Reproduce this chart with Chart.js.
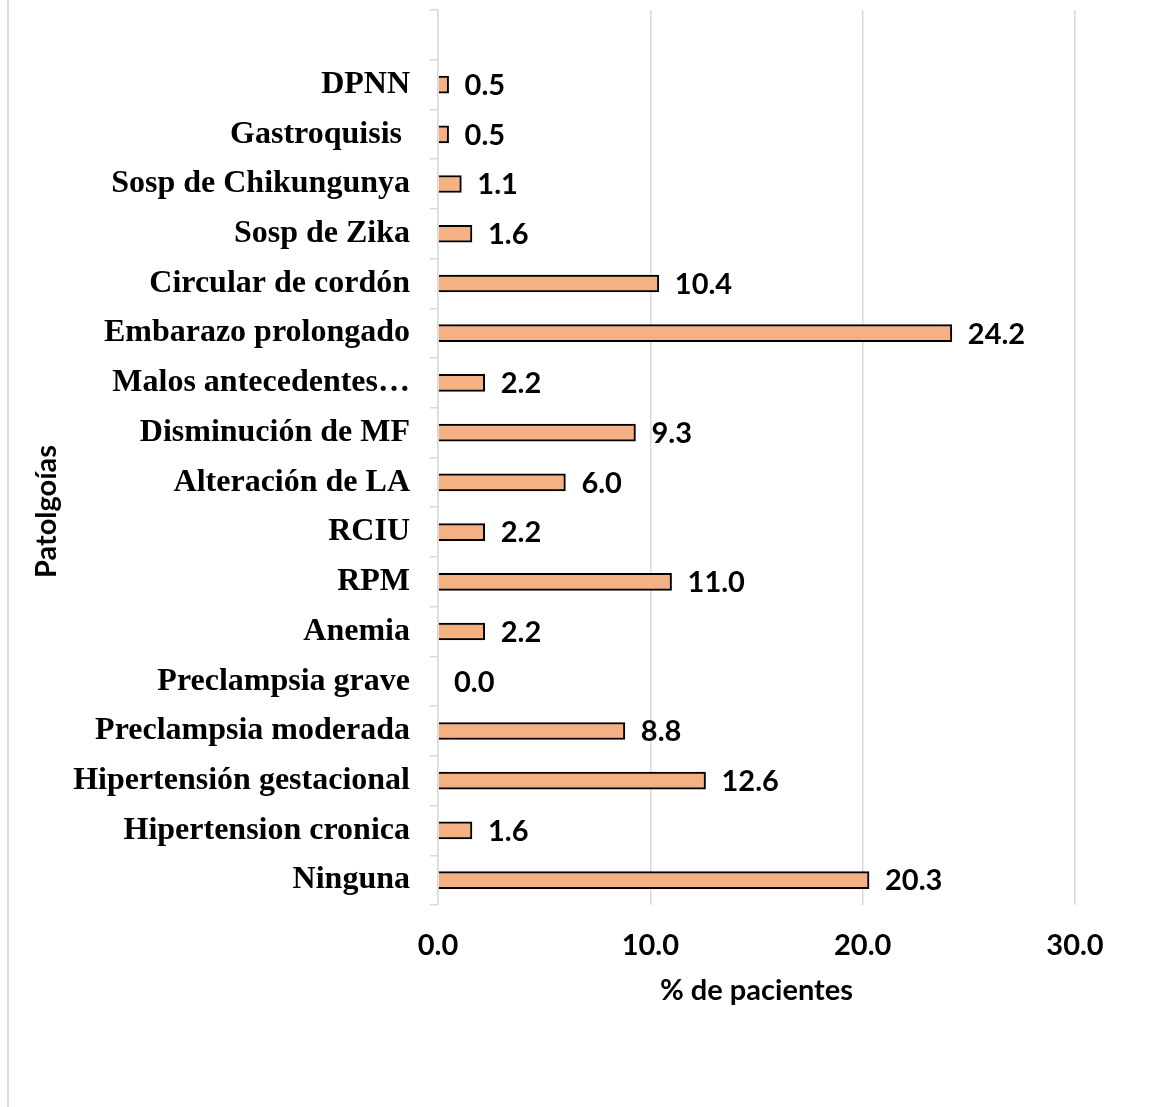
<!DOCTYPE html>
<html>
<head>
<meta charset="utf-8">
<script src="https://cdn.jsdelivr.net/npm/chart.js@4"></script>
<style>
  body { margin: 0; background: #fff; }
  #wrap { position: relative; width: 1173px; height: 1107px; }
  #frame { position: absolute; left: 7px; top: 0; width: 2px; height: 1107px; background: #d9d9d9; }
  #chart { position: absolute; left: 0; top: 0; }
</style>
</head>
<body>
<div id="wrap">
  <div id="frame"></div>
  <canvas id="chart" width="1173" height="1107"></canvas>
</div>
<script>
// categories top to bottom (first slot is empty in the original)
const categories = [
  '', 'DPNN', 'Gastroquisis ', 'Sosp de Chikungunya', 'Sosp de Zika',
  'Circular de cordón', 'Embarazo prolongado', 'Malos antecedentes…',
  'Disminución de MF', 'Alteración de LA', 'RCIU', 'RPM', 'Anemia',
  'Preclampsia grave', 'Preclampsia moderada', 'Hipertensión gestacional',
  'Hipertension cronica', 'Ninguna'
];
const percentages = [
  null, 0.5, 0.5, 1.1, 1.6,
  10.4, 24.2, 2.2,
  9.3, 6.0, 2.2, 11.0, 2.2,
  0.0, 8.8, 12.6,
  1.6, 20.3
];
const xTicks = [0, 10, 20, 30];
const yTitle = 'Patolgoías';

const sansBold = "'Lato', 'Open Sans', sans-serif";
const serifBold = "'Liberation Serif', 'Times New Roman', serif";

// value labels to the right of each bar + the rotated y title
const valueLabels = {
  id: 'valueLabels',
  afterDatasetsDraw(chart) {
    const ctx = chart.ctx;
    const meta = chart.getDatasetMeta(0);
    ctx.save();
    ctx.font = "bold 29px " + sansBold;
    ctx.fillStyle = '#000';
    ctx.textAlign = 'left';
    ctx.textBaseline = 'middle';
    meta.data.forEach((bar, i) => {
      const v = percentages[i];
      if (v === null) return;
      ctx.fillText(v.toFixed(1), bar.x + 16, bar.y + 1);
    });
    // y title sits a bit below the middle of the plot, like the original
    const area = chart.chartArea;
    ctx.translate(47, (area.top + area.bottom) / 2 + 54);
    ctx.rotate(-Math.PI / 2);
    ctx.textAlign = 'center';
    ctx.fillText(yTitle, 0, 0);
    ctx.restore();
  }
};

new Chart(document.getElementById('chart'), {
  type: 'bar',
  data: {
    labels: categories,
    datasets: [{
      data: percentages,
      backgroundColor: '#f4b183',
      borderColor: '#000',
      borderWidth: 2,
      borderSkipped: 'start',
      barThickness: 17
    }]
  },
  options: {
    indexAxis: 'y',
    responsive: false,
    animation: false,
    layout: { padding: { top: 10, right: 98, bottom: 95, left: 0 } },
    plugins: {
      legend: { display: false },
      tooltip: { enabled: false }
    },
    scales: {
      x: {
        min: 0,
        max: 30,
        afterBuildTicks(scale) {
          scale.ticks = xTicks.map(v => ({ value: v }));
        },
        afterFit(scale) {
          scale.height = 107;
          scale.paddingLeft = 0;
          scale.paddingRight = 0;
        },
        grid: { color: '#d9d9d9', lineWidth: 1.5, drawTicks: false },
        border: { display: false },
        ticks: {
          padding: 23,
          color: '#000',
          font: { family: sansBold, weight: 'bold', size: 29 },
          callback: v => Number(v).toFixed(1)
        },
        title: {
          display: true,
          text: '% de pacientes',
          color: '#000',
          font: { family: sansBold, weight: 'bold', size: 29 },
          padding: { top: 10, bottom: 4 }
        }
      },
      y: {
        afterFit(scale) {
          scale.width = 438;
          scale.paddingTop = 0;
          scale.paddingBottom = 0;
        },
        grid: {
          color: '#d9d9d9',
          lineWidth: 1.5,
          drawOnChartArea: false,
          drawTicks: true,
          tickLength: 8
        },
        border: { color: '#d9d9d9', width: 1.5 },
        ticks: {
          padding: 20,
          color: '#000',
          font: { family: serifBold, weight: 'bold', size: 32 }
        }
      }
    }
  },
  plugins: [valueLabels]
});
</script>
</body>
</html>
